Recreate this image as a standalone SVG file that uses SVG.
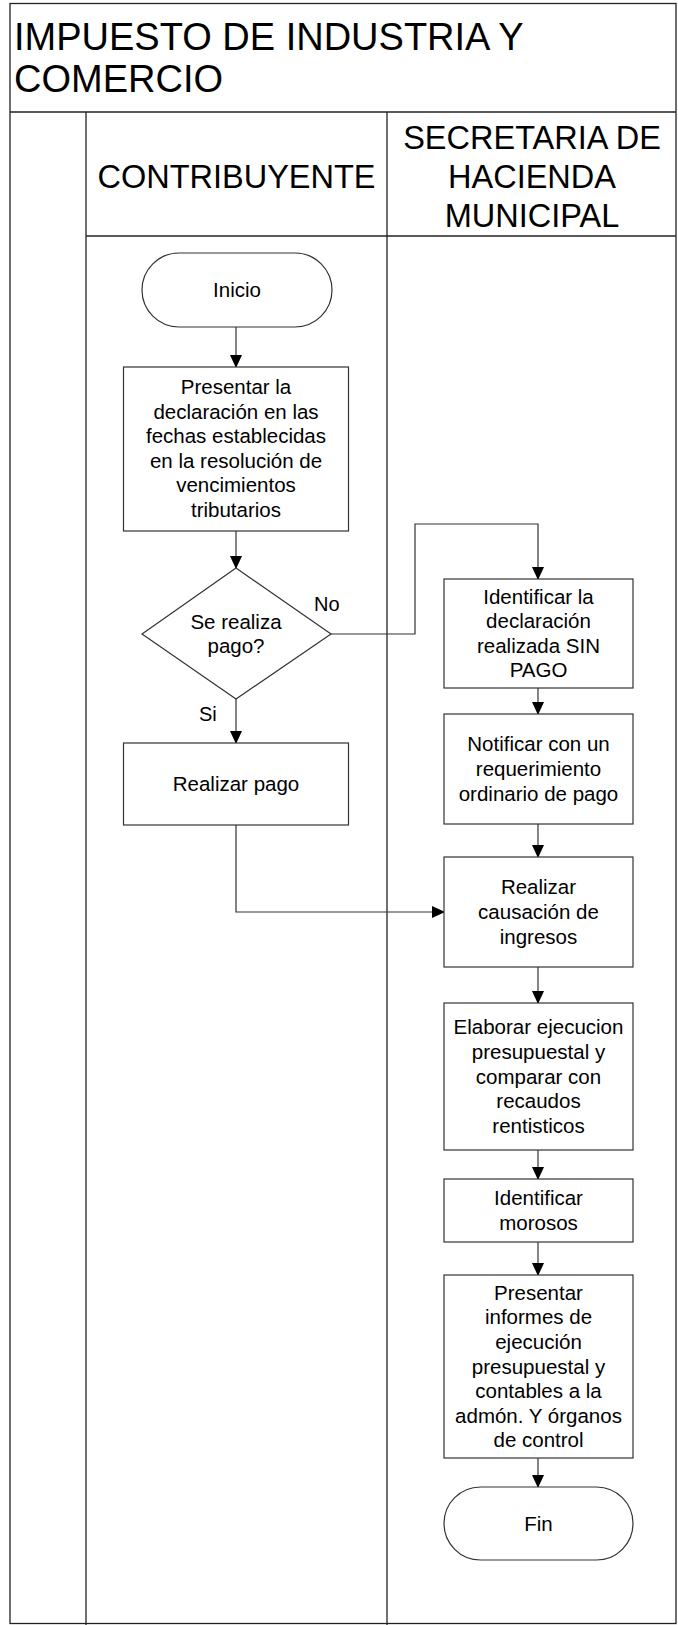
<svg xmlns="http://www.w3.org/2000/svg" width="678" height="1625" viewBox="0 0 678 1625">
  <style>
    .frame { fill: none; stroke: #222; stroke-width: 1.3; }
    .shape { fill: #fff; stroke: #333; stroke-width: 1.2; }
    .edge { fill: none; stroke: #333; stroke-width: 1.2; }
    .t { font-family: "Liberation Sans", Arial, sans-serif; fill: #000; }
    .node { font-size: 20.5px; text-anchor: middle; }
    .lbl { font-size: 20px; }
    .head { font-size: 32.5px; text-anchor: middle; }
    .title { font-size: 38px; }
  </style>
  <defs>
    <marker id="arrow" markerWidth="12" markerHeight="13" refX="12" refY="6" orient="auto" markerUnits="userSpaceOnUse">
      <path d="M0,0 L13,6 L0,12 Z" fill="#000"/>
    </marker>
  </defs>

  <rect width="678" height="1625" fill="#fff"/>

  <!-- pool frame and lanes -->
  <g id="pool">
    <rect class="frame" x="10" y="3.5" width="666" height="1620"/>
    <line class="frame" x1="10" y1="112" x2="676" y2="112"/>
    <line class="frame" x1="86" y1="112" x2="86" y2="1625"/>
    <line class="frame" x1="387" y1="112" x2="387" y2="1625"/>
    <line class="frame" x1="86" y1="236" x2="676" y2="236"/>
    <text class="t title" x="14" y="50">IMPUESTO DE INDUSTRIA Y</text>
    <text class="t title" x="14" y="92">COMERCIO</text>
    <text class="t head" x="236.5" y="188">CONTRIBUYENTE</text>
    <text class="t head" x="532" y="149">SECRETARIA DE</text>
    <text class="t head" x="532" y="188">HACIENDA</text>
    <text class="t head" x="532" y="227">MUNICIPAL</text>
  </g>

  <!-- connectors -->
  <g id="connectors">
    <line class="edge" x1="236" y1="327" x2="236" y2="367" marker-end="url(#arrow)"/>
    <line class="edge" x1="236" y1="531" x2="236" y2="568" marker-end="url(#arrow)"/>
    <line class="edge" x1="236" y1="699" x2="236" y2="743" marker-end="url(#arrow)"/>
    <polyline class="edge" points="331,634 415,634 415,524 538,524 538,579" marker-end="url(#arrow)"/>
    <line class="edge" x1="538" y1="688" x2="538" y2="714" marker-end="url(#arrow)"/>
    <line class="edge" x1="538" y1="824" x2="538" y2="857" marker-end="url(#arrow)"/>
    <polyline class="edge" points="236,825 236,912 444,912" marker-end="url(#arrow)"/>
    <line class="edge" x1="538" y1="967" x2="538" y2="1003" marker-end="url(#arrow)"/>
    <line class="edge" x1="538" y1="1150" x2="538" y2="1179" marker-end="url(#arrow)"/>
    <line class="edge" x1="538" y1="1242" x2="538" y2="1275" marker-end="url(#arrow)"/>
    <line class="edge" x1="538" y1="1458" x2="538" y2="1487" marker-end="url(#arrow)"/>
    <text class="t lbl" x="314" y="611">No</text>
    <text class="t lbl" x="199" y="721">Si</text>
  </g>

  <!-- contribuyente lane -->
  <g id="inicio">
    <rect class="shape" x="142" y="253" width="190" height="74" rx="37"/>
    <text class="t node" x="237" y="297">Inicio</text>
  </g>
  <g id="presentar-declaracion">
    <rect class="shape" x="123.5" y="367" width="225" height="164"/>
    <text class="t node" x="236" y="394">Presentar la</text>
    <text class="t node" x="236" y="418.6">declaración en las</text>
    <text class="t node" x="236" y="443.2">fechas establecidas</text>
    <text class="t node" x="236" y="467.8">en la resolución de</text>
    <text class="t node" x="236" y="492.4">vencimientos</text>
    <text class="t node" x="236" y="517">tributarios</text>
  </g>
  <g id="decision-pago">
    <polygon class="shape" points="236,568 331,634 236,699 142,634"/>
    <text class="t node" x="236" y="629">Se realiza</text>
    <text class="t node" x="236" y="653">pago?</text>
  </g>
  <g id="realizar-pago">
    <rect class="shape" x="123.5" y="743" width="225" height="82"/>
    <text class="t node" x="236" y="791">Realizar pago</text>
  </g>

  <!-- hacienda lane -->
  <g id="identificar-sin-pago">
    <rect class="shape" x="444" y="579" width="189" height="109"/>
    <text class="t node" x="538.5" y="603.6">Identificar la</text>
    <text class="t node" x="538.5" y="628.2">declaración</text>
    <text class="t node" x="538.5" y="652.8">realizada SIN</text>
    <text class="t node" x="538.5" y="677.4">PAGO</text>
  </g>
  <g id="notificar">
    <rect class="shape" x="444" y="714" width="189" height="110"/>
    <text class="t node" x="538.5" y="751.4">Notificar con un</text>
    <text class="t node" x="538.5" y="776">requerimiento</text>
    <text class="t node" x="538.5" y="800.6">ordinario de pago</text>
  </g>
  <g id="causacion">
    <rect class="shape" x="444" y="857" width="189" height="110"/>
    <text class="t node" x="538.5" y="894.4">Realizar</text>
    <text class="t node" x="538.5" y="919">causación de</text>
    <text class="t node" x="538.5" y="943.6">ingresos</text>
  </g>
  <g id="ejecucion">
    <rect class="shape" x="444" y="1003" width="189" height="147"/>
    <text class="t node" x="538.5" y="1034.3">Elaborar ejecucion</text>
    <text class="t node" x="538.5" y="1058.9">presupuestal y</text>
    <text class="t node" x="538.5" y="1083.5">comparar con</text>
    <text class="t node" x="538.5" y="1108.1">recaudos</text>
    <text class="t node" x="538.5" y="1132.7">rentisticos</text>
  </g>
  <g id="morosos">
    <rect class="shape" x="444" y="1179" width="189" height="63"/>
    <text class="t node" x="538.5" y="1205.2">Identificar</text>
    <text class="t node" x="538.5" y="1229.8">morosos</text>
  </g>
  <g id="informes">
    <rect class="shape" x="444" y="1275" width="189" height="183"/>
    <text class="t node" x="538.5" y="1299.7">Presentar</text>
    <text class="t node" x="538.5" y="1324.3">informes de</text>
    <text class="t node" x="538.5" y="1348.9">ejecución</text>
    <text class="t node" x="538.5" y="1373.5">presupuestal y</text>
    <text class="t node" x="538.5" y="1398.1">contables a la</text>
    <text class="t node" x="538.5" y="1422.7">admón. Y órganos</text>
    <text class="t node" x="538.5" y="1447.3">de control</text>
  </g>
  <g id="fin">
    <rect class="shape" x="444" y="1487" width="189" height="73" rx="36.5"/>
    <text class="t node" x="538.5" y="1530.5">Fin</text>
  </g>
</svg>
